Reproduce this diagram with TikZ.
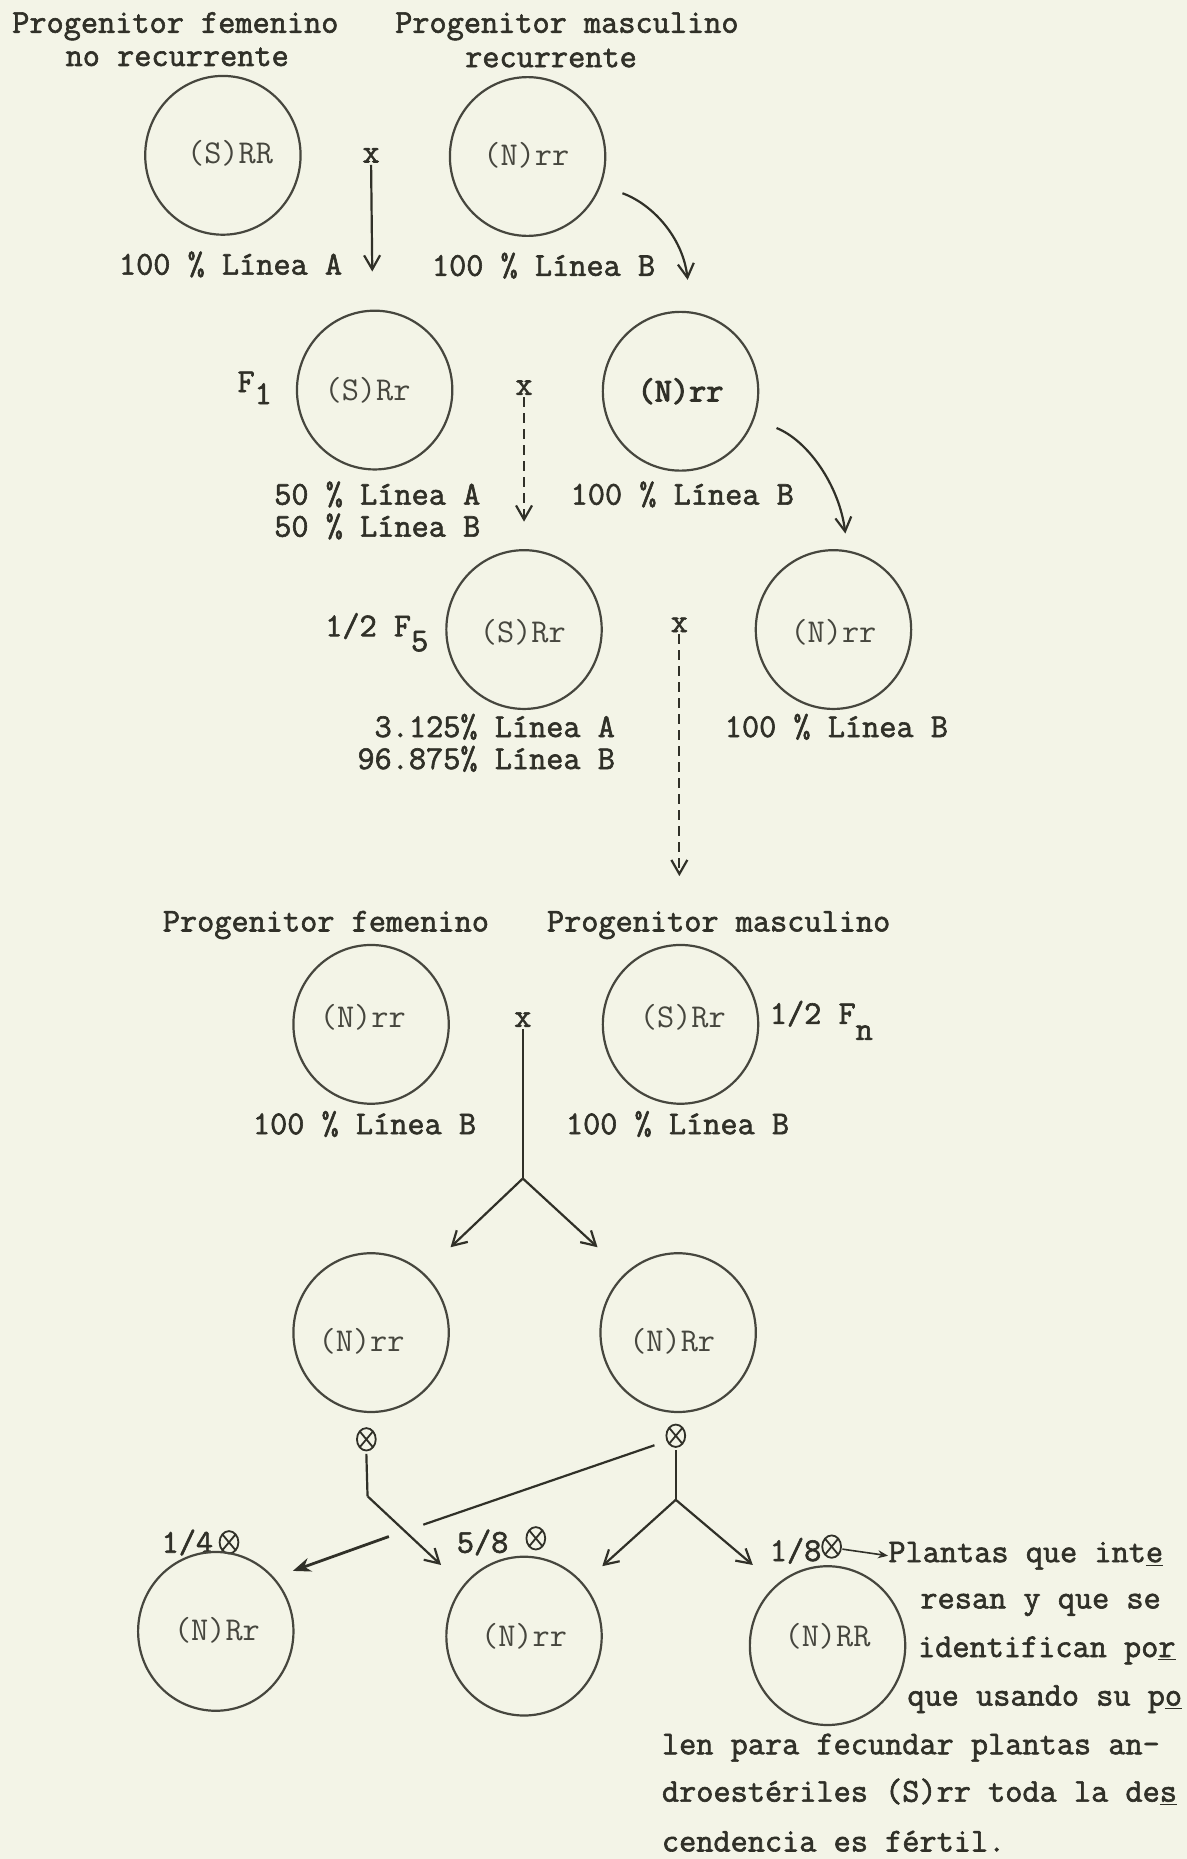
\documentclass[tikz,border=0pt]{standalone}
\usepackage{fontspec}
\newfontfamily\twfam{Latin Modern Mono}[AutoFakeBold=1.8]
\newfontfamily\twfamx{Latin Modern Mono}[AutoFakeBold=3.2]
\usetikzlibrary{shapes.geometric,arrows.meta}
\definecolor{paper}{RGB}{243,244,231}
\definecolor{ink}{RGB}{48,48,40}
\definecolor{inkl}{RGB}{70,70,62}
\newcommand{\tw}{\twfam\bfseries\fontsize{16.67}{19}\selectfont}
\newcommand{\twx}{\twfamx\bfseries\fontsize{16.67}{19}\selectfont}
\newcommand{\twl}{\twfam\mdseries\fontsize{16.67}{19}\selectfont}
\newcommand{\ot}{\tikz[baseline=-5.2pt,x=1pt,y=1pt]\draw[ink,line width=0.9pt] (0,0) ellipse [x radius=4.7, y radius=5.6] (-3.3,-3.96) -- (3.3,3.96) (-3.3,3.96) -- (3.3,-3.96);}
\begin{document}
\begin{tikzpicture}[x=0.5929pt,y=-0.5929pt,
  circ/.style={ellipse,draw=inkl,line width=1.1pt,minimum width=77.7pt,minimum height=79.4pt,inner sep=0pt},
  glbl/.style={font=\twl,text=inkl,inner sep=0pt},
  txt/.style={font=\tw,text=ink,inner sep=0pt,anchor=mid west},
  txtr/.style={font=\tw,text=ink,inner sep=0pt,anchor=mid east},
  cross/.style={font=\tw,text=ink,inner sep=1pt},
  conn/.style={draw=ink,line width=1.1pt},
  arr/.style={conn,-{Straight Barb[length=7pt,width=8pt]}},
  darr/.style={arr,dash pattern=on 5pt off 3pt},
]
\fill[paper] (0,0) rectangle (1001,1568);
\useasboundingbox (0,0) rectangle (1001,1568);

% ---- Row 1
\node[txt] (t1) at (10,24) {Progenitor femenino};
\node[txt] (t2) at (55,52) {no recurrente};
\node[txt] (t3) at (333,24) {Progenitor masculino};
\node[txt] (t4) at (392,53) {recurrente};
\node[circ] (c1) at (188,131) {};
\node[glbl] (l1) at (194,129) {(S)RR};
\node[cross] (x1) at (313,131) {x};
\node[circ] (c2) at (445,132) {};
\node[glbl] (l2) at (444,131) {(N)rr};
\node[txt] (t5) at (100,228) {100 \% Línea A};
\node[txt] (t6) at (364,229) {100 \% Línea B};
\coordinate (a1) at (314,229);
\draw[arr] (x1.south) -- (a1);
\coordinate (s2) at (525,163);
\coordinate (a2) at (580,236);
\draw[arr] (s2) .. controls (550,172) and (576,200) .. (a2);

% ---- Row 2
\node[txt] (t7) at (200,327) {F\raisebox{-6pt}{1}};
\node[circ] (c3) at (316,329) {};
\node[glbl] (l3) at (310,329) {(S)Rr};
\node[cross] (x2) at (442,327) {x};
\node[circ] (c4) at (574,330) {};
\node[glbl,font=\twx,text=ink] (l4) at (574,330) {(N)rr};
\coordinate (a3) at (442,440);
\draw[darr] (x2.south) -- (a3);
\coordinate (s4) at (655,361);
\coordinate (a4) at (713,450);
\draw[arr] (s4) .. controls (682,372) and (708,410) .. (a4);
\node[txt] (t8) at (231,422) {50 \% Línea A};
\node[txt] (t9) at (231,449) {50 \% Línea B};
\node[txt] (t10) at (481,422) {100 \% Línea B};

% ---- Row 3
\node[txt] (t11) at (274,533) {1/2 F\raisebox{-7.5pt}{5}};
\node[circ] (c5) at (442,531) {};
\node[glbl] (l5) at (441,533) {(S)Rr};
\node[cross] (x3) at (573,527) {x};
\node[circ] (c6) at (703,531) {};
\node[glbl] (l6) at (703,533) {(N)rr};
\coordinate (a5) at (573,739);
\draw[darr] (x3.south) -- (a5);
\node[txtr] (t12) at (519,618) {3.125\% Línea A};
\node[txtr] (t13) at (519,645) {96.875\% Línea B};
\node[txt] (t14) at (611,618) {100 \% Línea B};

% ---- Row 4
\node[txt] (t15) at (137,782) {Progenitor femenino};
\node[txt] (t16) at (461,782) {Progenitor masculino};
\node[circ] (c7) at (313,864) {};
\node[glbl] (l7) at (306,858) {(N)rr};
\node[cross] (x4) at (441,860) {x};
\node[circ] (c8) at (574,864) {};
\node[glbl] (l8) at (576,858) {(S)Rr};
\node[txt] (t17) at (649,860) {1/2 F\raisebox{-8pt}{n}};
\node[txt] (t18) at (213,953) {100 \% Línea B};
\node[txt] (t19) at (477,953) {100 \% Línea B};
\coordinate (j1) at (441,994);
\coordinate (a6) at (380,1052);
\coordinate (a7) at (504,1052);
\draw[conn] (x4.south) -- (j1);
\draw[arr] (j1) -- (a6);
\draw[arr] (j1) -- (a7);

% ---- Row 5
\node[circ] (c9) at (313,1124) {};
\node[glbl] (l9) at (305,1131) {(N)rr};
\node[circ] (c10) at (572,1124) {};
\node[glbl] (l10) at (567,1131) {(N)Rr};
\node[cross] (o1) at (309,1214) {\ot};
\node[cross] (o2) at (570,1211) {\ot};
\coordinate (j2) at (310,1262);
\coordinate (a8) at (372,1320);
\draw[conn] (o1.south) -- (j2);
\draw[arr] (j2) -- (a8);
\coordinate (d0) at (552,1219);
\coordinate (d1) at (357,1286);
\coordinate (d2) at (328,1296);
\coordinate (a9) at (247,1325);
\draw[conn] (d0) -- (d1);
\draw[conn,line width=1.4pt,-{Stealth[length=9pt,width=7pt]}] (d2) -- (a9);
\coordinate (j3) at (570,1265);
\coordinate (a10) at (508,1321);
\coordinate (a11) at (635,1320);
\draw[conn] (o2.south) -- (j3);
\draw[arr] (j3) -- (a10);
\draw[arr] (j3) -- (a11);

% ---- Row 6
\node[txt] (t20) at (136,1306) {1/4\,\ot};
\node[circ] (c11) at (182,1376) {};
\node[glbl] (l11) at (183,1375) {(N)Rr};
\node[txt] (t21) at (385,1306) {5/8 \raisebox{2pt}{\ot}};
\node[circ] (c12) at (442,1380) {};
\node[glbl] (l12) at (442,1380) {(N)rr};
\node[txt] (t22) at (649,1313) {1/8\raisebox{2pt}{\ot}};
\node[txt] (t23) at (749,1314) {Plantas que int\underline{e}};
\draw[conn,line width=0.8pt,-{Stealth[length=5pt,width=4pt]}] (t22.east) -- (t23.west);
\node[circ] (c13) at (698,1388) {};
\node[glbl] (l13) at (698,1380) {(N)RR};
\node[txt] (p1) at (776,1353) {resan y que se};
\node[txt] (p2) at (774,1394) {identifican po\underline{r}};
\node[txt] (p3) at (765,1435) {que usando su p\underline{o}};
\node[txt] (p4) at (558,1476) {len para fecundar plantas an-};
\node[txt] (p5) at (558,1516) {droestériles (S)rr toda la de\underline{s}};
\node[txt] (p6) at (558,1558) {cendencia es fértil.};
\end{tikzpicture}
\end{document}
